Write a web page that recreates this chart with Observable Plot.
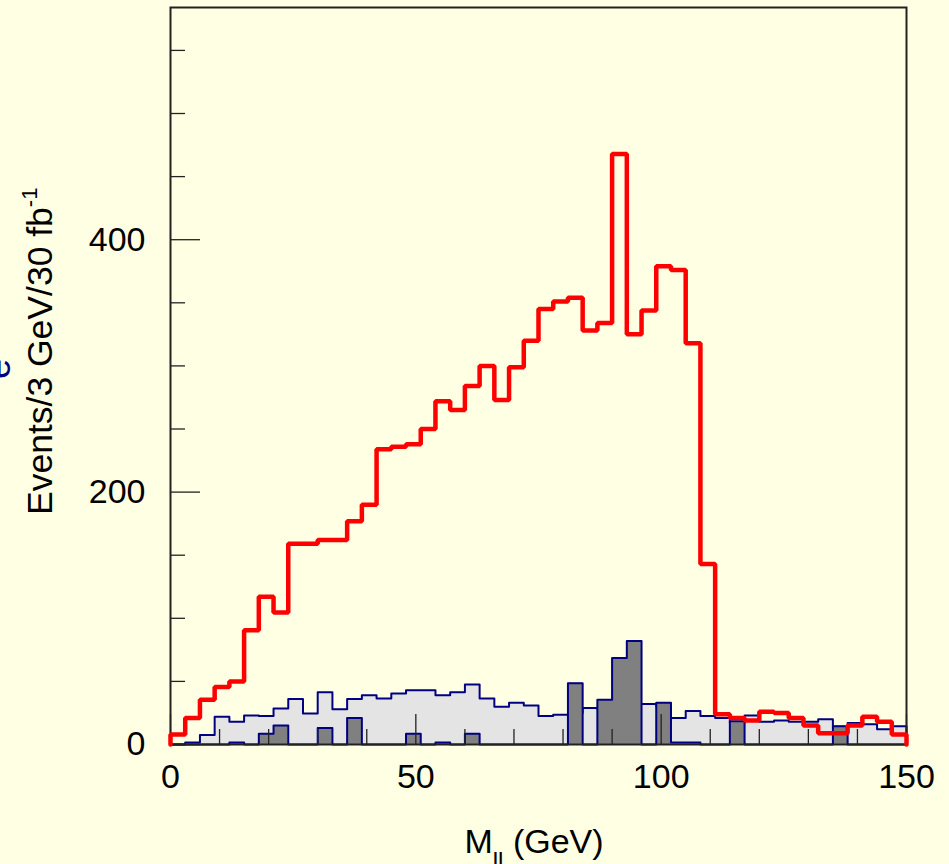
<!DOCTYPE html>
<html>
<head>
<meta charset="utf-8">
<script src="https://cdn.jsdelivr.net/npm/d3@7"></script>
<script src="https://cdn.jsdelivr.net/npm/@observablehq/plot@0.6"></script>
<style>
  html, body { margin: 0; padding: 0; background: #ffffe4; }
  #chart svg { display: block; }
</style>
</head>
<body>
<div id="chart"></div>
<script>
// Dilepton invariant mass, 3 GeV bins from 0 to 150 GeV
const binWidth = 3;
const massMin = 0;
const massMax = 150;

// Signal (red outline)
const signal = [
  8, 21, 35.5, 45.5, 50, 90.5, 117, 104.5, 159, 159,
  162, 162, 177, 190, 234, 236, 238, 250, 272, 265,
  284, 300, 273, 299, 320, 345, 351, 354, 328, 334,
  468, 325, 344, 379, 376, 318, 143, 24, 21, 19,
  26, 25, 21, 15, 9, 9, 15, 22, 18, 8
];

// Background 1 (light grey, navy outline)
const backgroundLight = [
  0, 1.5, 7.5, 22, 18, 23, 22.5, 28.5, 36, 24.5,
  41.5, 28, 36, 39, 36.5, 40.5, 43, 43, 39, 41.5,
  47.5, 36.5, 30, 33, 31, 22.5, 23.5, 25, 29, 28,
  30, 32, 32, 30, 21, 26.5, 22.5, 21, 17, 23,
  18, 19, 18, 18, 20, 14, 17, 16, 12, 14.5
];

// Background 2 (dark grey, navy outline)
const backgroundDark = [
  0, 0, 0, 0, 1.5, 0, 8.5, 15, 0, 0,
  13, 0, 21, 0, 0, 0, 8.5, 0, 1.5, 0,
  8.5, 0, 0, 0, 0, 0, 0, 48.5, 0, 35.5,
  68.5, 82, 0, 33, 1.5, 1.5, 0, 0, 18.5, 0,
  0, 0, 0, 0, 0, 14.5, 0, 0, 0, 0
];

// Axis ticks
const xMajorTicks = [0, 50, 100, 150];
const xMinorTicks = [10, 20, 30, 40, 60, 70, 80, 90, 110, 120, 130, 140];
const yMajorTicks = [0, 200, 400];
const yMinorTicks = [50, 100, 150, 250, 300, 350, 450, 500, 550];
const yMax = 584;

const xTitle = { main: "M", sub: "ll", rest: " (GeV)" };
const yTitle = { main: "Events/3 GeV/30 fb", sup: "-1" };

// Build a closed step outline from bin contents
const edges = d3.range(signal.length + 1).map(i => massMin + i * binWidth);
function stepPoints(values) {
  const pts = [{x: edges[0], y: 0}];
  values.forEach((v, i) => pts.push({x: edges[i], y: v}));
  pts.push({x: edges[values.length], y: values[values.length - 1]});
  pts.push({x: edges[values.length], y: 0});
  return pts;
}
const lightPts = stepPoints(backgroundLight);
const darkPts = stepPoints(backgroundDark);
const signalPts = stepPoints(signal);

const W = 949, H = 864;
const mLeft = 170, mRight = 43, mTop = 7, mBottom = 120;
const plotW = W - mLeft - mRight;
const plotH = H - mTop - mBottom;
const font = "'Liberation Sans', Arial, Helvetica, sans-serif";
const navy = "#000080";
const tickColor = "#222";

const chart = Plot.plot({
  width: W,
  height: H,
  marginLeft: mLeft,
  marginRight: mRight,
  marginTop: mTop,
  marginBottom: mBottom,
  style: { background: "#ffffe4", fontFamily: font, color: "#000" },
  x: { domain: [massMin, massMax] },
  y: { domain: [0, yMax] },
  marks: [
    Plot.areaY(lightPts, {x: "x", y: "y", curve: "step-after", fill: "#e4e4e4"}),
    Plot.line(lightPts, {x: "x", y: "y", curve: "step-after", stroke: navy, strokeWidth: 2}),
    Plot.areaY(darkPts, {x: "x", y: "y", curve: "step-after", fill: "#808080"}),
    Plot.line(darkPts, {x: "x", y: "y", curve: "step-after", stroke: navy, strokeWidth: 2}),
    Plot.ruleX(xMinorTicks, {x: d => d, insetTop: plotH - 15, stroke: tickColor, strokeWidth: 1.3}),
    Plot.ruleX(xMajorTicks, {x: d => d, insetTop: plotH - 30, stroke: tickColor, strokeWidth: 1.3}),
    Plot.ruleY(yMinorTicks, {y: d => d, insetRight: plotW - 15, stroke: tickColor, strokeWidth: 1.3}),
    Plot.ruleY(yMajorTicks, {y: d => d, insetRight: plotW - 30, stroke: tickColor, strokeWidth: 1.3}),
    Plot.frame({stroke: tickColor, strokeWidth: 2}),
    Plot.line(signalPts, {x: "x", y: "y", curve: "step-after", stroke: "#ff0000", strokeWidth: 4.5, strokeLinejoin: "miter"}),
    Plot.axisX(xMajorTicks, {tickSize: 0, tickPadding: 19, fontSize: 34, label: null}),
    Plot.axisY(yMajorTicks, {tickSize: 0, tickPadding: 25, fontSize: 34, label: null})
  ]
});

const svg = d3.select(chart);
svg.style("overflow", "hidden");

// y-axis title with superscript
const yt = svg.append("text")
  .attr("transform", "translate(52,515) rotate(-90)")
  .attr("text-anchor", "start")
  .attr("font-family", font)
  .attr("font-size", 35.5)
  .attr("fill", "#000");
yt.append("tspan").text(yTitle.main);
yt.append("tspan").attr("font-size", 22).attr("dy", -15).text(yTitle.sup);

// x-axis title with subscript
const xt = svg.append("text")
  .attr("x", 534)
  .attr("y", 853)
  .attr("text-anchor", "middle")
  .attr("font-family", font)
  .attr("font-size", 34)
  .attr("fill", "#000");
xt.append("tspan").text(xTitle.main);
xt.append("tspan").attr("font-size", 24).attr("dy", 16).text(xTitle.sub);
xt.append("tspan").attr("dy", -16).text(xTitle.rest);

// partially visible side annotation
svg.append("text")
  .attr("transform", "translate(10,369) rotate(-90)")
  .attr("text-anchor", "middle")
  .attr("font-family", font)
  .attr("font-size", 36)
  .attr("fill", navy)
  .text("e");

document.getElementById("chart").appendChild(chart);
</script>
</body>
</html>
